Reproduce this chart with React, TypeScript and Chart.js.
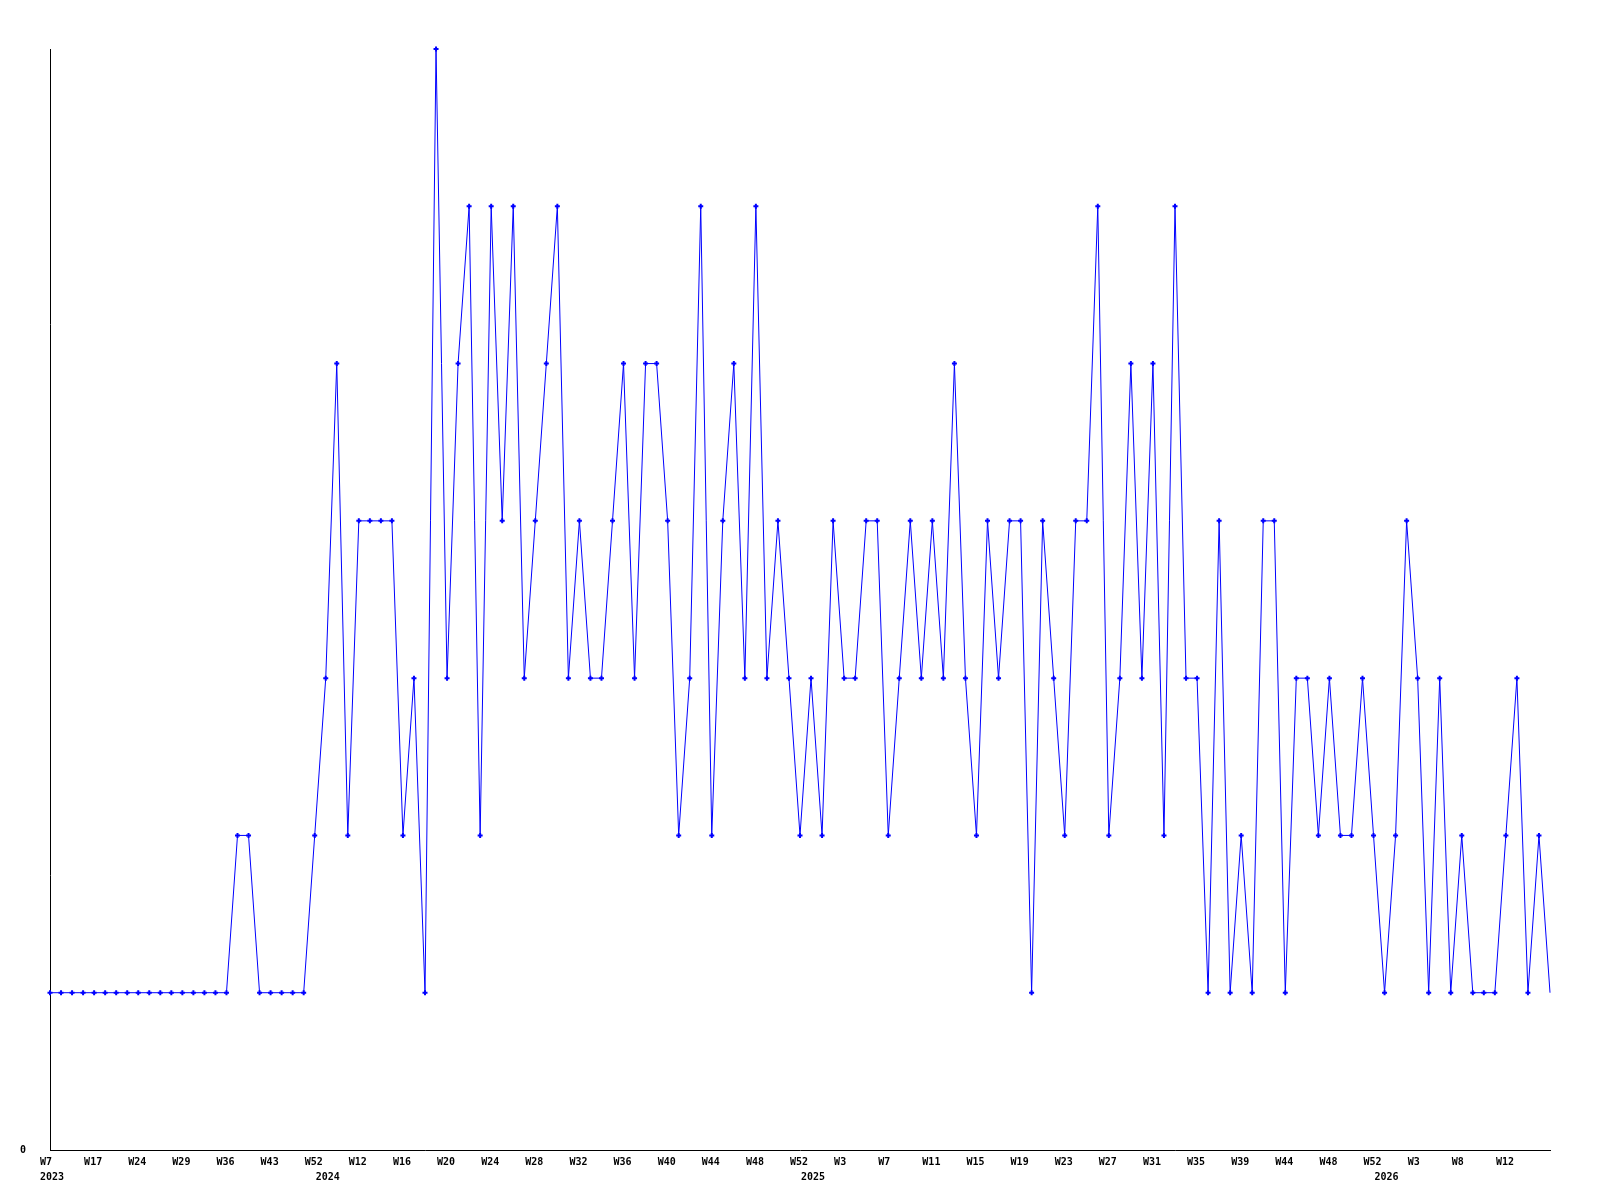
import React, { useEffect, useRef } from 'react';
import { Chart, registerables } from 'chart.js';

Chart.register(...registerables);

// One value per data point (weekly counts)
const values: number[] = [
  1, 1, 1, 1, 1, 1, 1, 1, 1, 1, 1, 1, 1, 1, 1, 1, 1, 2, 2, 1,
  1, 1, 1, 1, 2, 3, 5, 2, 4, 4, 4, 4, 2, 3, 1, 7, 3, 5, 6, 2,
  6, 4, 6, 3, 4, 5, 6, 3, 4, 3, 3, 4, 5, 3, 5, 5, 4, 2, 3, 6,
  2, 4, 5, 3, 6, 3, 4, 3, 2, 3, 2, 4, 3, 3, 4, 4, 2, 3, 4, 3,
  4, 3, 5, 3, 2, 4, 3, 4, 4, 1, 4, 3, 2, 4, 4, 6, 2, 3, 5, 3,
  5, 2, 6, 3, 3, 1, 4, 1, 2, 1, 4, 4, 1, 3, 3, 2, 3, 2, 2, 3,
  2, 1, 2, 4, 3, 1, 3, 1, 2, 1, 1, 1, 2, 3, 1, 2, 1,
];

// Week labels shown on every 4th data point
const weekTickLabels: string[] = [
  'W7', 'W17', 'W24', 'W29', 'W36', 'W43', 'W52',
  'W12', 'W16', 'W20', 'W24', 'W28', 'W32', 'W36', 'W40', 'W44', 'W48', 'W52',
  'W3', 'W7', 'W11', 'W15', 'W19', 'W23', 'W27', 'W31', 'W35', 'W39', 'W44', 'W48', 'W52',
  'W3', 'W8', 'W12',
];
const tickEvery = 4;

// Year labels, placed under the first data point of each year
const yearNames: string[] = ['2023', '2024', '2025', '2026'];
const yearStartIndex: number[] = [0, 25, 69, 121];

const yMin = 0;
const yMax = 7;
const yTickValues: number[] = [0];

const categories: (string | string[])[] = values.map((_, i) => {
  const week = i % tickEvery === 0 ? weekTickLabels[i / tickEvery] ?? '' : '';
  const y = yearStartIndex.indexOf(i);
  return y >= 0 ? [week, yearNames[y]] : week;
});

const FONT = { family: '"DejaVu Sans Mono", monospace', size: 10, weight: 'bold' as const, lineHeight: 1.5 };

export default function App() {
  const ref = useRef<HTMLCanvasElement | null>(null);

  useEffect(() => {
    if (!ref.current) return;
    const chart = new Chart(ref.current, {
      type: 'line',
      data: {
        labels: categories,
        datasets: [
          {
            data: values,
            borderColor: '#0000ff',
            backgroundColor: '#0000ff',
            borderWidth: 1,
            pointStyle: 'cross',
            pointRadius: (ctx: any) => (ctx.dataIndex === values.length - 1 ? 0 : 2.5),
            pointBorderWidth: 2,
            pointBorderColor: '#0000ff',
            tension: 0,
            fill: false,
            clip: false,
          },
        ],
      },
      options: {
        responsive: false,
        animation: false,
        devicePixelRatio: 1,
        layout: { padding: { top: 49, right: 50, bottom: 0, left: 0 } },
        plugins: {
          legend: { display: false },
          tooltip: { enabled: false },
          title: { display: false },
        },
        scales: {
          x: {
            type: 'category',
            offset: false,
            grid: { display: false, drawTicks: false },
            border: { display: true, color: '#000000', width: 1 },
            ticks: {
              autoSkip: false,
              maxRotation: 0,
              minRotation: 0,
              align: 'start',
              labelOffset: -10,
              padding: 4.5,
              color: '#000000',
              font: FONT,
            },
            afterFit: (s: any) => {
              s.height = 50;
            },
          },
          y: {
            min: yMin,
            max: yMax,
            grid: { display: false, drawTicks: false },
            border: { display: true, color: '#000000', width: 1 },
            ticks: {
              padding: 24,
              color: '#000000',
              font: FONT,
            },
            afterBuildTicks: (s: any) => {
              s.ticks = yTickValues.map((v) => ({ value: v }));
            },
            afterFit: (s: any) => {
              s.width = 50;
            },
          },
        },
      },
    });
    return () => chart.destroy();
  }, []);

  return (
    <div style={{ position: 'absolute', left: 0, top: 0, width: 1600, height: 1200, background: '#ffffff' }}>
      <canvas ref={ref} width={1600} height={1200} style={{ width: 1600, height: 1200, display: 'block' }} />
    </div>
  );
}
